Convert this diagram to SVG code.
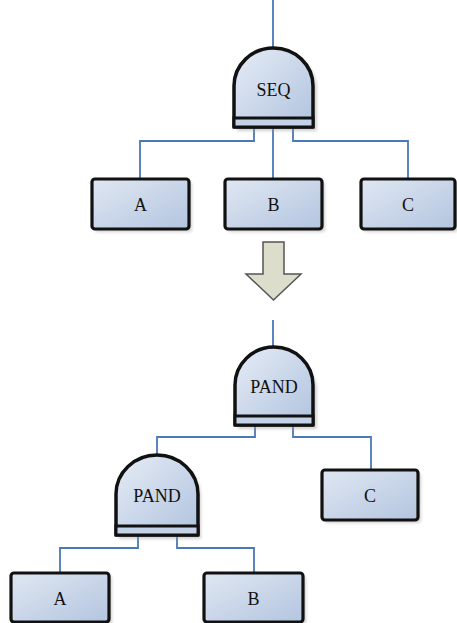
<svg xmlns="http://www.w3.org/2000/svg" width="457" height="623" viewBox="0 0 457 623">
<defs>
<linearGradient id="gbox" x1="0" y1="0" x2="1" y2="1">
<stop offset="0" stop-color="#e0e7f2"/>
<stop offset="1" stop-color="#b3c5e0"/>
</linearGradient>
<linearGradient id="ggate" x1="0" y1="0" x2="1" y2="1">
<stop offset="0" stop-color="#e6ecf5"/>
<stop offset="1" stop-color="#b0c3df"/>
</linearGradient>
<filter id="sh" x="-20%" y="-20%" width="150%" height="150%">
<feGaussianBlur stdDeviation="1.5"/>
</filter>
</defs>
<style>
.box{fill:url(#gbox);stroke:#111;stroke-width:3.2}
.gate{fill:url(#ggate);stroke:#111;stroke-width:3.5;stroke-linejoin:round}
.bar{fill:#c4d2e8;stroke:#111;stroke-width:3}
.shadow{fill:#9a9a9a;opacity:0.45;filter:url(#sh)}
.lbl{font-family:"Liberation Serif","Times New Roman",serif;font-size:18px;fill:#111;text-anchor:middle}
.conn{fill:none;stroke:#4a78b8;stroke-width:1.8}
</style>

<g id="connectors">
<path class="conn" d="M273,0 V48"/>
<path class="conn" d="M254,127 V141 H140 V179"/>
<path class="conn" d="M273,127 V179"/>
<path class="conn" d="M293,127 V141 H408 V179"/>
<path class="conn" d="M273,320 V347"/>
<path class="conn" d="M255,425 V437 H157 V455"/>
<path class="conn" d="M293,425 V437 H371 V470"/>
<path class="conn" d="M138,535 V548 H60 V573"/>
<path class="conn" d="M177,535 V548 H254 V573"/>
</g>

<g id="seq">
<path class="shadow" d="M237,131 V89 A40,38 0 0 1 317,89 V131 Z"/>
<path class="gate" d="M234,127 V86 A39.5,38 0 0 1 313,86 V127 Z"/>
<rect class="bar" x="234" y="118" width="79" height="9"/>
<text class="lbl" x="273.5" y="96">SEQ</text>
</g>

<g id="a1">
<rect class="shadow" x="95" y="182" width="97" height="50" rx="3"/>
<rect class="box" x="92" y="179" width="97" height="50" rx="3"/>
<text class="lbl" x="140.5" y="211">A</text>
</g>
<g id="b1">
<rect class="shadow" x="228" y="182" width="97" height="50" rx="3"/>
<rect class="box" x="225" y="179" width="97" height="50" rx="3"/>
<text class="lbl" x="273.5" y="211">B</text>
</g>
<g id="c1">
<rect class="shadow" x="364" y="182" width="94" height="50" rx="3"/>
<rect class="box" x="361" y="179" width="94" height="50" rx="3"/>
<text class="lbl" x="408" y="211">C</text>
</g>

<g id="arrow">
<path d="M263,242 H284 V274 H301 L273.5,300 L246,274 H263 Z" fill="#dcdecb" stroke="#555" stroke-width="1.5" stroke-linejoin="miter"/>
</g>

<g id="pand1">
<path class="shadow" d="M238,429 V387 A40,40 0 0 1 317,387 V429 Z"/>
<path class="gate" d="M235,425 V385 A39,38 0 0 1 313,385 V425 Z"/>
<rect class="bar" x="235" y="416" width="78" height="9"/>
<text class="lbl" x="274" y="393">PAND</text>
</g>

<g id="c2">
<rect class="shadow" x="325" y="473" width="96" height="50" rx="3"/>
<rect class="box" x="322" y="470" width="96" height="50" rx="3"/>
<text class="lbl" x="370" y="502">C</text>
</g>

<g id="pand2">
<path class="shadow" d="M119,539 V497 A41,40 0 0 1 201,497 V539 Z"/>
<path class="gate" d="M116,535 V494 A41,39 0 0 1 198,494 V535 Z"/>
<rect class="bar" x="116" y="526" width="82" height="9"/>
<text class="lbl" x="157" y="502">PAND</text>
</g>

<g id="a2">
<rect class="shadow" x="14" y="576" width="98" height="50" rx="3"/>
<rect class="box" x="11" y="573" width="98" height="49" rx="3"/>
<text class="lbl" x="60" y="605">A</text>
</g>
<g id="b2">
<rect class="shadow" x="207" y="576" width="99" height="50" rx="3"/>
<rect class="box" x="204" y="573" width="99" height="49" rx="3"/>
<text class="lbl" x="253.5" y="605">B</text>
</g>
</svg>
